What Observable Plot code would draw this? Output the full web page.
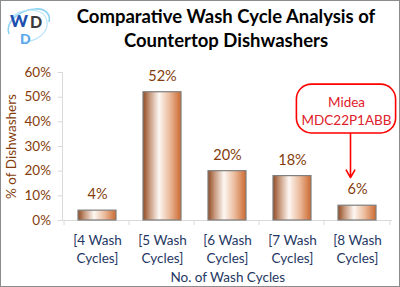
<!DOCTYPE html>
<html>
<head>
<meta charset="utf-8">
<script src="https://cdn.jsdelivr.net/npm/d3@7"></script>
<script src="https://cdn.jsdelivr.net/npm/@observablehq/plot@0.6"></script>
<style>
  html, body { margin: 0; padding: 0; background: #fff; }
  #wrap { position: absolute; left: 0; top: 0; width: 400px; height: 287px; box-sizing: border-box; border: 1px solid #8c8c8c; background: #fff; overflow: hidden; font-family: Lato, "Open Sans", sans-serif; }
  #header { position: relative; height: 57px; }
  #title { position: absolute; left: 50px; width: 350px; top: 3px; text-align: center; font-weight: bold; font-size: 18.5px; line-height: 24px; color: #000; }
  #logo { position: absolute; left: 4px; top: 3px; }
  svg { display: block; }
</style>
</head>
<body>
<div id="wrap">
  <div id="header">
    <svg id="logo" width="48" height="42" viewBox="0 0 48 42">
      <path d="M4,30 C0,18 14,6 30,5 C40,4 46,10 44,18" fill="none" stroke="#8fd3f4" stroke-width="1.6"/>
      <path d="M8,12 C20,2 44,4 42,22 C40,32 28,38 18,38" fill="none" stroke="#b5e3f8" stroke-width="1.2"/>
      <text x="5" y="23" font-family="Lato, sans-serif" font-weight="900" font-size="17" fill="#1d4fae">W</text>
      <text x="25" y="24" font-family="Lato, sans-serif" font-weight="900" font-size="16" fill="#3a3a3a">D</text>
      <text x="15" y="40" font-family="Lato, sans-serif" font-weight="900" font-size="14" fill="#5aa6ea">D</text>
    </svg>
    <div id="title">Comparative Wash Cycle Analysis of<br>Countertop Dishwashers</div>
  </div>
  <div id="chart"></div>
</div>
<script>
const categories = ["[4 Wash Cycles]", "[5 Wash Cycles]", "[6 Wash Cycles]", "[7 Wash Cycles]", "[8 Wash Cycles]"];
const shares = [0.04, 0.52, 0.20, 0.18, 0.06];
const yTicks = [0, 0.1, 0.2, 0.3, 0.4, 0.5, 0.6];
const calloutCategory = "[8 Wash Cycles]";
const calloutLines = ["Midea", "MDC22P1ABB"];
const calloutBox = [0.353, 0.551];
const calloutTextY = [0.478, 0.405];
const arrowY = [0.353, 0.174];

const data = categories.map((c, i) => ({cat: c, value: shares[i]}));
const brown = "#843c0c";
const navy = "#1f3864";
const W = 398, H = 228;
const mL = 61.5, mR = 7, mT = 14, mB = 66;
const step = (W - mL - mR) / categories.length;

const plot = Plot.plot({
  width: W,
  height: H,
  marginLeft: mL,
  marginRight: mR,
  marginTop: mT,
  marginBottom: mB,
  style: {fontFamily: "Lato, 'Open Sans', sans-serif", background: "transparent", overflow: "visible"},
  x: {domain: categories, paddingInner: 0.41, paddingOuter: 0.205},
  y: {domain: [0, 0.6]},
  marks: [
    Plot.axisY({ticks: yTicks, tickFormat: d3.format(".0%"), tickSize: 5, tickPadding: 7, stroke: "#d9d9d9", fill: brown, fontSize: 13.5, label: null}),
    Plot.text(["% of Dishwashers"], {frameAnchor: "left", textAnchor: "middle", lineAnchor: "middle", rotate: -90, dx: -51, fill: brown, fontSize: 13.5}),
    Plot.axisX({tickSize: 0, tickPadding: 12, fill: navy, fontSize: 13.5, label: null, lineHeight: 1.3,
      tickFormat: d => d.replace(" Cycles", "\nCycles")}),
    Plot.text(["No. of Wash Cycles"], {frameAnchor: "bottom", lineAnchor: "middle", dy: 57, fill: navy, fontSize: 13.5}),
    Plot.ruleY([0], {stroke: "#d9d9d9"}),
    Plot.barY(data, {x: "cat", y: "value", fill: "url(#barGrad)", stroke: "#7f7f7f", strokeWidth: 1.2}),
    Plot.text(data, {x: "cat", y: "value", text: d => d3.format(".0%")(d.value), dy: -16, fill: brown, fontSize: 14.5}),
    Plot.barY([calloutCategory], {x: d => d, y1: calloutBox[0], y2: calloutBox[1], dx: -11, insetLeft: -30.6, insetRight: -30.6, rx: 15, fill: "white", stroke: "#ff0000", strokeWidth: 1.6}),
    Plot.text(calloutLines, {x: () => calloutCategory, y: (d, i) => calloutTextY[i], text: d => d, dx: -11, fill: "#e0202a", fontSize: 13.5}),
    Plot.arrow([calloutCategory], {x1: d => d, x2: d => d, y1: arrowY[0], y2: arrowY[1], dx: -7, stroke: "#ff0000", strokeWidth: 1.6, headLength: 8})
  ]
});

// gradient definition for bars
const svg = d3.select(plot);
const grad = svg.insert("defs", ":first-child").append("linearGradient").attr("id", "barGrad").attr("x1", "0").attr("x2", "1").attr("y1", "0").attr("y2", "0");
[[0, "#8e4b26"], [0.18, "#c99a7e"], [0.42, "#fdf7f3"], [0.7, "#ebbb9c"], [1, "#cc6a30"]].forEach(([o, c]) => grad.append("stop").attr("offset", o).attr("stop-color", c));

// axis lines and category boundary ticks (via the plot's scales)
const xs = plot.scale("x"), ys = plot.scale("y");
const y0 = ys.apply(0), yTop = ys.apply(0.6);
const deco = svg.append("g").attr("stroke", "#d9d9d9").attr("stroke-width", 1);
deco.append("line").attr("x1", mL).attr("x2", mL).attr("y1", yTop).attr("y2", y0);
categories.forEach((c, i) => {
  const bx = xs.apply(c) - (step - xs.bandwidth) / 2;
  deco.append("line").attr("x1", bx).attr("x2", bx).attr("y1", y0).attr("y2", y0 + 5);
  if (i === categories.length - 1) {
    const ex = bx + step;
    deco.append("line").attr("x1", ex).attr("x2", ex).attr("y1", y0).attr("y2", y0 + 5);
  }
});

document.getElementById("chart").appendChild(plot);
</script>
</body>
</html>
